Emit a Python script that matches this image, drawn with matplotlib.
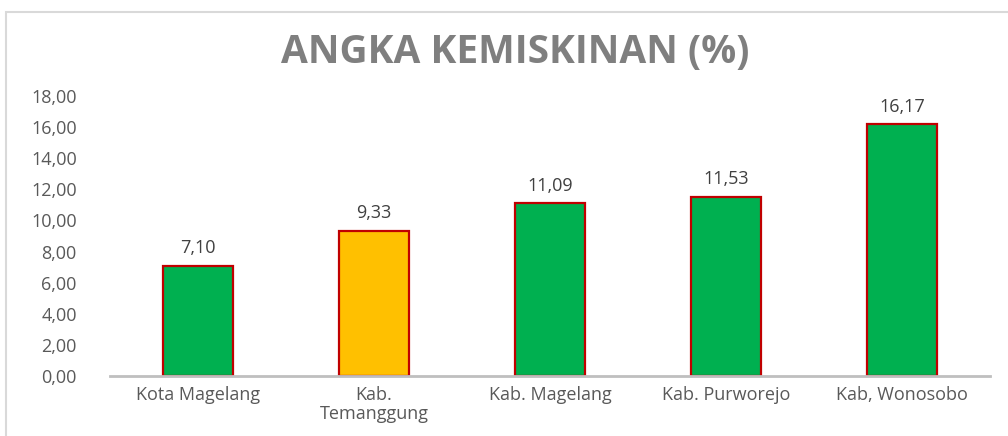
import matplotlib.pyplot as plt
from matplotlib.patches import Rectangle

# Data
regions = ["Kota Magelang", "Kab.\nTemanggung", "Kab. Magelang", "Kab. Purworejo", "Kab, Wonosobo"]
values = [7.10, 9.33, 11.09, 11.53, 16.17]
colors = ["#00B050", "#FFC000", "#00B050", "#00B050", "#00B050"]
yticks = [0, 2, 4, 6, 8, 10, 12, 14, 16, 18]
title = "ANGKA KEMISKINAN (%)"

plt.rcParams['font.family'] = ['Open Sans', 'DejaVu Sans']

fig = plt.figure(figsize=(10.08, 4.36), dpi=100)
ax = fig.add_axes([110/1008, 1 - 376/436, 880/1008, 280/436])

# chart border
fig.patches.append(Rectangle((6/1008, -0.1), 1.2, 1 - 12/436 + 0.1, transform=fig.transFigure,
                             fill=False, edgecolor="#d9d9d9", linewidth=1.5))

x = range(len(values))
bars = ax.bar(x, values, width=0.4, color=colors, edgecolor="#C00000", linewidth=1.6, zorder=3)

# value labels with comma decimal
for b, v in zip(bars, values):
    ax.text(b.get_x() + b.get_width()/2, v + 0.55, f"{v:.2f}".replace(".", ","),
            ha="center", va="bottom", fontsize=13, color="#404040")

ax.set_xlim(-0.5, len(values) - 0.5)
ax.set_ylim(0, 18)
ax.set_yticks(yticks)
ax.set_yticklabels([f"{t:.2f}".replace(".", ",") for t in yticks])
ax.set_xticks(list(x))
ax.set_xticklabels(regions, linespacing=1.1)

ax.tick_params(axis="both", length=0, labelsize=13, labelcolor="#595959")
ax.tick_params(axis="y", pad=24)
ax.tick_params(axis="x", pad=7)

for s in ["top", "right", "left"]:
    ax.spines[s].set_visible(False)
ax.spines["bottom"].set_color("#bfbfbf")
ax.spines["bottom"].set_linewidth(2)
ax.spines["bottom"].set_zorder(5)

fig.text(515/1008, 1 - 52/436, title, ha="center", va="center",
         fontsize=28, fontweight="bold", color="#7f7f7f")

fig.savefig("out.png", dpi=100)
